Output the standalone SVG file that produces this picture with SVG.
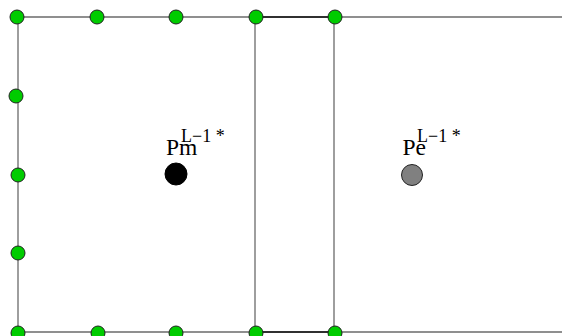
<svg xmlns="http://www.w3.org/2000/svg" width="562" height="336" viewBox="0 0 562 336">
<style>
.ln{stroke:#6a6a6a;stroke-width:1.3;fill:none}
.dk{stroke:#111;stroke-width:1.3;fill:none}
.g{fill:#00cc00;stroke:#222;stroke-width:1}
.t{font-family:"Liberation Serif","Times New Roman",serif;fill:#000}
.b{font-size:23.5px}
.s{font-size:18px}
</style>
<rect width="562" height="336" fill="#fff"/>
<g id="connectors">
<line class="ln" x1="18" y1="17" x2="562" y2="17"/>
<line class="ln" x1="18" y1="332" x2="562" y2="332"/>
<line class="ln" x1="18" y1="17" x2="18" y2="332"/>
<line class="ln" x1="255" y1="17" x2="255" y2="332"/>
<line class="ln" x1="334" y1="17" x2="334" y2="332"/>
<line class="dk" x1="255" y1="17" x2="334" y2="17"/>
<line class="dk" x1="255" y1="332" x2="334" y2="332"/>
</g>
<g id="n-top1"><circle class="g" cx="17" cy="17" r="7"/></g>
<g id="n-top2"><circle class="g" cx="97" cy="17" r="7"/></g>
<g id="n-top3"><circle class="g" cx="176" cy="17" r="7"/></g>
<g id="n-top4"><circle class="g" cx="256" cy="17" r="7"/></g>
<g id="n-top5"><circle class="g" cx="335" cy="17" r="7"/></g>
<g id="n-left1"><circle class="g" cx="16" cy="96" r="7"/></g>
<g id="n-left2"><circle class="g" cx="18" cy="175" r="7"/></g>
<g id="n-left3"><circle class="g" cx="18" cy="253" r="7"/></g>
<g id="n-bot1"><circle class="g" cx="18" cy="333" r="7"/></g>
<g id="n-bot2"><circle class="g" cx="98" cy="333" r="7"/></g>
<g id="n-bot3"><circle class="g" cx="176" cy="333" r="7"/></g>
<g id="n-bot4"><circle class="g" cx="256" cy="333" r="7"/></g>
<g id="n-bot5"><circle class="g" cx="335" cy="333" r="7"/></g>
<g id="n-pm">
<circle cx="176" cy="174" r="11" fill="#000" stroke="#000"/>
<text class="t b" x="166" y="155">Pm</text>
<text class="t s" x="181" y="142">L−1 *</text>
</g>
<g id="n-pe">
<circle cx="412" cy="175" r="10.5" fill="#808080" stroke="#222" stroke-width="1"/>
<text class="t b" x="402.5" y="155">Pe</text>
<text class="t s" x="417" y="142">L−1 *</text>
</g>
</svg>
